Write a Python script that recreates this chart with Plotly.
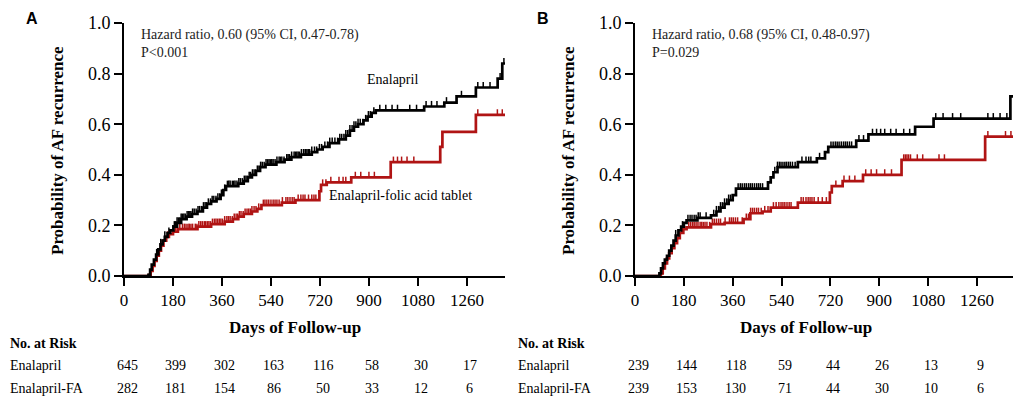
import numpy as np
import plotly.graph_objects as go

# page offset (browser default body margin)
OFF = 8
W, H = 1021 - OFF, 398 - OFF

# ---------------- data ----------------
tick_days = [0, 180, 360, 540, 720, 900, 1080, 1260]

# Panel A (step events: day, cumulative probability after step)
a_ena_t = [0, 90, 96, 102, 110, 118, 126, 134, 142, 150, 160, 170, 182, 195, 210, 230, 250, 270, 290, 305,
           320, 340, 355, 365, 375, 420, 440, 455, 470, 485, 500, 520, 560, 590, 615, 650, 690, 710, 730,
           755, 790, 815, 830, 845, 860, 880, 895, 910, 925, 1103, 1177, 1222, 1293, 1373, 1390, 1400]
a_ena_p = [0, .005, .025, .045, .065, .085, .105, .125, .14, .155, .17, .18, .195, .21, .225, .235, .245, .255, .27, .285,
           .295, .305, .32, .34, .355, .365, .375, .39, .40, .415, .43, .44, .45, .46, .47, .48, .49, .50, .51,
           .525, .54, .555, .575, .59, .60, .615, .63, .645, .655, .67, .685, .71, .745, .78, .84, .84]
a_ena_c = [120, 135, 150, 165, 180, 185, 190, 195, 200, 205, 210, 215, 220, 225, 232, 238, 242, 246, 252, 258,
           265, 272, 278, 285, 292, 298, 304, 310, 318, 324, 330, 338, 345, 352, 358, 362, 370, 380, 385, 390,
           398, 403, 408, 415, 422, 428, 435, 442, 448, 454, 460, 465, 472, 478, 484, 490, 496, 502, 508, 515,
           522, 528, 533, 538, 543, 548, 555, 562, 570, 575, 580, 588, 598, 603, 608, 616, 625, 630, 635, 640,
           645, 652, 660, 666, 672, 677, 682, 690, 700, 708, 718, 726, 738, 748, 756, 765, 775, 785, 793, 800,
           808, 815, 822, 830, 838, 845, 852, 860, 868, 878, 888, 898, 905, 918, 940, 962, 985, 1005, 1050,
           1075, 1110, 1130, 1150, 1185, 1240, 1300, 1320, 1345, 1382, 1396]

a_fa_t = [0, 92, 98, 105, 112, 120, 128, 136, 145, 155, 165, 180, 198, 270, 320, 370, 400, 420, 440, 470,
          490, 505, 580, 630, 718, 724, 745, 835, 980, 1162, 1170, 1293, 1400]
a_fa_p = [0, .005, .02, .04, .06, .08, .10, .12, .14, .155, .165, .175, .185, .195, .205, .215, .225, .235, .245, .255,
          .265, .28, .29, .30, .335, .36, .37, .39, .45, .51, .57, .637, .637]
a_fa_c = [140, 160, 190, 205, 215, 222, 228, 235, 240, 246, 252, 262, 268, 275, 282, 288, 295, 300, 306, 312,
          318, 325, 332, 338, 344, 350, 356, 362, 370, 378, 384, 390, 398, 405, 412, 418, 424, 430, 438, 445,
          452, 458, 464, 470, 478, 485, 495, 512, 518, 525, 532, 540, 548, 555, 562, 570, 582, 595, 602, 610,
          618, 625, 640, 650, 658, 665, 678, 690, 698, 705, 730, 742, 760, 790, 805, 815, 850, 870, 900, 920,
          990, 1005, 1020, 1040, 1065, 1168, 1300, 1372, 1390]

# Panel B
b_ena_t = [0, 90, 96, 103, 110, 118, 126, 134, 142, 150, 160, 170, 180, 190, 230, 280, 300, 315, 330, 345,
           360, 372, 490, 500, 510, 525, 600, 670, 700, 712, 815, 860, 1032, 1100, 1383, 1400]
b_ena_p = [0, .01, .03, .05, .065, .08, .10, .12, .14, .16, .18, .195, .21, .22, .23, .24, .255, .27, .285, .30,
           .32, .345, .37, .39, .41, .43, .45, .465, .49, .51, .535, .56, .59, .622, .71, .70]
b_ena_c = [125, 150, 175, 195, 203, 210, 218, 225, 233, 240, 262, 290, 300, 308, 315, 322, 330, 338, 345, 352,
           380, 388, 395, 403, 410, 418, 425, 432, 440, 448, 455, 462, 470, 515, 525, 532, 538, 545, 552, 558,
           565, 572, 580, 590, 615, 630, 640, 648, 680, 722, 730, 738, 745, 752, 760, 768, 775, 782, 790, 798,
           825, 842, 875, 890, 905, 920, 942, 962, 990, 1012, 1108, 1135, 1170, 1200, 1300, 1320, 1345, 1370]

b_fa_t = [0, 95, 102, 110, 118, 126, 135, 145, 155, 165, 178, 190, 280, 330, 400, 425, 470, 500, 600, 718,
          725, 765, 840, 982, 1290, 1400]
b_fa_p = [0, .01, .03, .05, .07, .09, .11, .13, .15, .17, .185, .192, .205, .21, .225, .248, .255, .27, .29, .33,
          .355, .375, .40, .459, .551, .551]
b_fa_c = [150, 172, 198, 205, 212, 218, 225, 232, 240, 246, 252, 258, 265, 275, 285, 292, 300, 308, 315, 332,
          348, 355, 362, 370, 378, 395, 410, 418, 426, 433, 440, 448, 455, 465, 478, 490, 510, 520, 530, 538,
          545, 552, 560, 568, 575, 612, 620, 630, 638, 645, 652, 660, 675, 690, 705, 740, 770, 790, 810, 850,
          870, 890, 920, 945, 990, 996, 1002, 1008, 1015, 1040, 1060, 1120, 1140, 1300, 1365, 1385]

row_labels = ["Enalapril", "Enalapril-FA"]
a_risk_ena = [645, 399, 302, 163, 116, 58, 30, 17]
a_risk_fa = [282, 181, 154, 86, 50, 33, 12, 6]
b_risk_ena = [239, 144, 118, 59, 44, 26, 13, 9]
b_risk_fa = [239, 153, 130, 71, 44, 30, 10, 6]

hr_texts = ["Hazard ratio, 0.60 (95% CI, 0.47-0.78)", "Hazard ratio, 0.68 (95% CI, 0.48-0.97)"]
p_texts = ["P&lt;0.001", "P=0.029"]

# ---------------- style ----------------
BLACK = "#000000"
RED = "#b01414"
SERIF = "Liberation Serif, Times New Roman, serif"
SANS = "Liberation Sans, Arial, sans-serif"


def py(pixel_y):
    return 1 - (pixel_y - OFF) / H


def px(pixel_x):
    return max(pixel_x - OFF, 0) / W


def step_value(ts, ps, t):
    i = np.searchsorted(np.asarray(ts), t, side="right") - 1
    return ps[max(i, 0)]


def censor_xy(ts, ps, cs, h=0.022):
    xs, ys = [], []
    for c in cs:
        v = step_value(ts, ps, c)
        xs += [c, c, None]
        ys += [v, v + h, None]
    return xs, ys


fig = go.Figure()

panels = [
    ("x", "y", [(a_ena_t, a_ena_p, a_ena_c, BLACK), (a_fa_t, a_fa_p, a_fa_c, RED)]),
    ("x2", "y2", [(b_ena_t, b_ena_p, b_ena_c, BLACK), (b_fa_t, b_fa_p, b_fa_c, RED)]),
]
for xa, ya, curves in panels:
    for ts, ps, cs, col in reversed(curves):
        fig.add_trace(go.Scatter(x=ts, y=ps, mode="lines", line=dict(color=col, width=2.7, shape="hv"),
                                 xaxis=xa, yaxis=ya, showlegend=False, hoverinfo="skip", cliponaxis=False))
        cx, cy = censor_xy(ts, ps, cs)
        fig.add_trace(go.Scatter(x=cx, y=cy, mode="lines", line=dict(color=col, width=1.5),
                                 xaxis=xa, yaxis=ya, showlegend=False, hoverinfo="skip", cliponaxis=False))

ax_common = dict(
    showline=True, linewidth=2, linecolor="black", ticks="outside", ticklen=8, tickwidth=2,
    tickcolor="black", showgrid=False, zeroline=False, fixedrange=True, automargin=False,
)
xdom_a = [px(124), px(505)]
xdom_b = [px(635), px(1015)]
ydom = [py(276), py(23)]

fig.update_layout(
    width=W, height=H, margin=dict(l=0, r=0, t=0, b=0, pad=0, autoexpand=False),
    paper_bgcolor="white", plot_bgcolor="white",
    xaxis=dict(domain=xdom_a, range=[0, 1400], tickvals=tick_days, anchor="y",
               tickfont=dict(family=SERIF, size=17, color="black"), **ax_common),
    yaxis=dict(domain=ydom, range=[0, 1.0], dtick=0.2, tickformat=".1f", anchor="x",
               tickfont=dict(family=SERIF, size=18, color="black"), **ax_common),
    xaxis2=dict(domain=xdom_b, range=[0, 1400], tickvals=tick_days, anchor="y2",
                tickfont=dict(family=SERIF, size=17, color="black"), **ax_common),
    yaxis2=dict(domain=ydom, range=[0, 1.0], dtick=0.2, tickformat=".1f", anchor="x2",
                tickfont=dict(family=SERIF, size=18, color="black"), **ax_common),
)


def A(text, x, y, xanchor="center", xref="paper", yref="paper", size=14, family=SERIF, color="black",
      **kw):
    return dict(text=text, x=x, y=y, xref=xref, yref=yref, xanchor=xanchor, yanchor="middle",
                showarrow=False, font=dict(family=family, size=size, color=color), **kw)


ann = []
offsets = [0, 511]
xrefs = ["x", "x2"]
risks = [(a_risk_ena, a_risk_fa), (b_risk_ena, b_risk_fa)]
letters = ["A", "B"]
for k in range(2):
    off = offsets[k]
    ann.append(A("<b>%s</b>" % letters[k], px(32 + off), py(18), family=SANS, size=16))
    ann.append(A("<b>Probability of AF recurrence</b>", px(57 + off), py(151), size=17, textangle=-90))
    ann.append(A("<b>Days of Follow-up</b>", px(295 + off), py(327), size=17))
    ann.append(A(hr_texts[k], px(139 + off), py(35), xanchor="left", color="#222"))
    ann.append(A(p_texts[k], px(139 + off), py(52), xanchor="left", color="#222"))
    ann.append(A("<b>No. at Risk</b>", px(5 + off), py(343), xanchor="left"))
    for r, (lab, vals) in enumerate(zip(row_labels, risks[k])):
        yy = py(365 + 23 * r)
        ann.append(A(lab, px(5 + off), yy, xanchor="left"))
        for d, v in zip(tick_days, vals):
            ann.append(A(str(v), d, yy, xref=xrefs[k], xshift=3))

ann.append(A("Enalapril", 987, 0.776, xref="x", yref="y"))
ann.append(A("Enalapril-folic acid tablet", 1017, 0.317, xref="x", yref="y"))

fig.update_layout(annotations=ann)
fig.write_html("out.html")
